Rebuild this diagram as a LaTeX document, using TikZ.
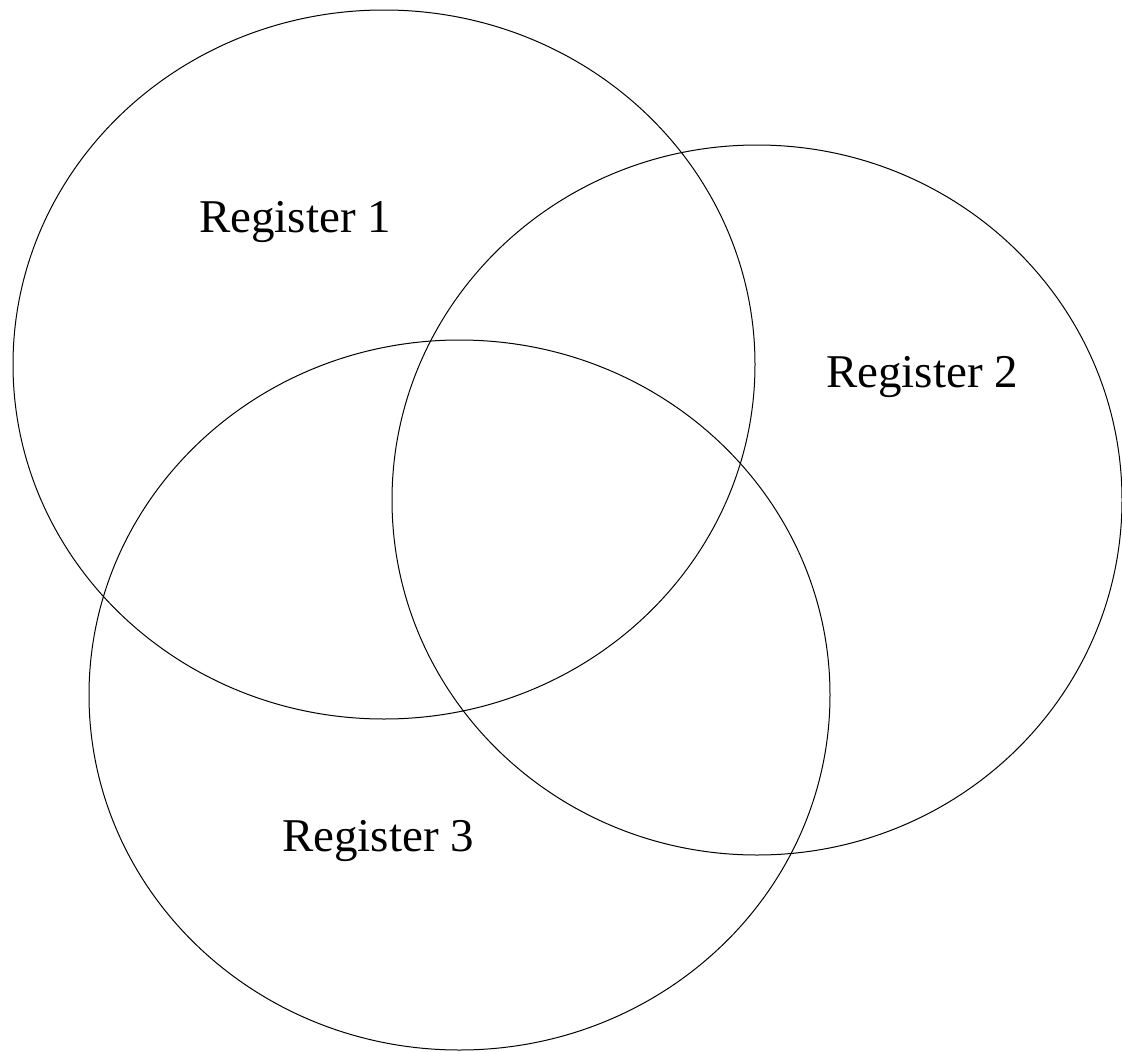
\documentclass[tikz,border=0pt]{standalone}
\usepackage{fontspec}
\setmainfont{Liberation Serif}
\usetikzlibrary{shapes.geometric}
\begin{document}
\begin{tikzpicture}[x=1pt,y=-1pt,
  setring/.style={draw=black,line width=1pt,ellipse,inner sep=0pt,fill=none},
  setlabel/.style={font=\fontsize{47}{50}\selectfont,inner sep=0pt,anchor=center}]
\useasboundingbox (0,0) rectangle (1122,1052);
% three overlapping sets
\node[setring,minimum width=742pt,minimum height=709pt] (r1) at (384,364.5) {};
\node[setring,minimum width=730pt,minimum height=710pt] (r2) at (757,500) {};
\node[setring,minimum width=741pt,minimum height=710pt] (r3) at (459.5,695) {};
% set names
\node[setlabel] (l1) at (295,222) {Register 1};
\node[setlabel] (l2) at (922,377) {Register 2};
\node[setlabel] (l3) at (378,841) {Register 3};
\end{tikzpicture}
\end{document}
